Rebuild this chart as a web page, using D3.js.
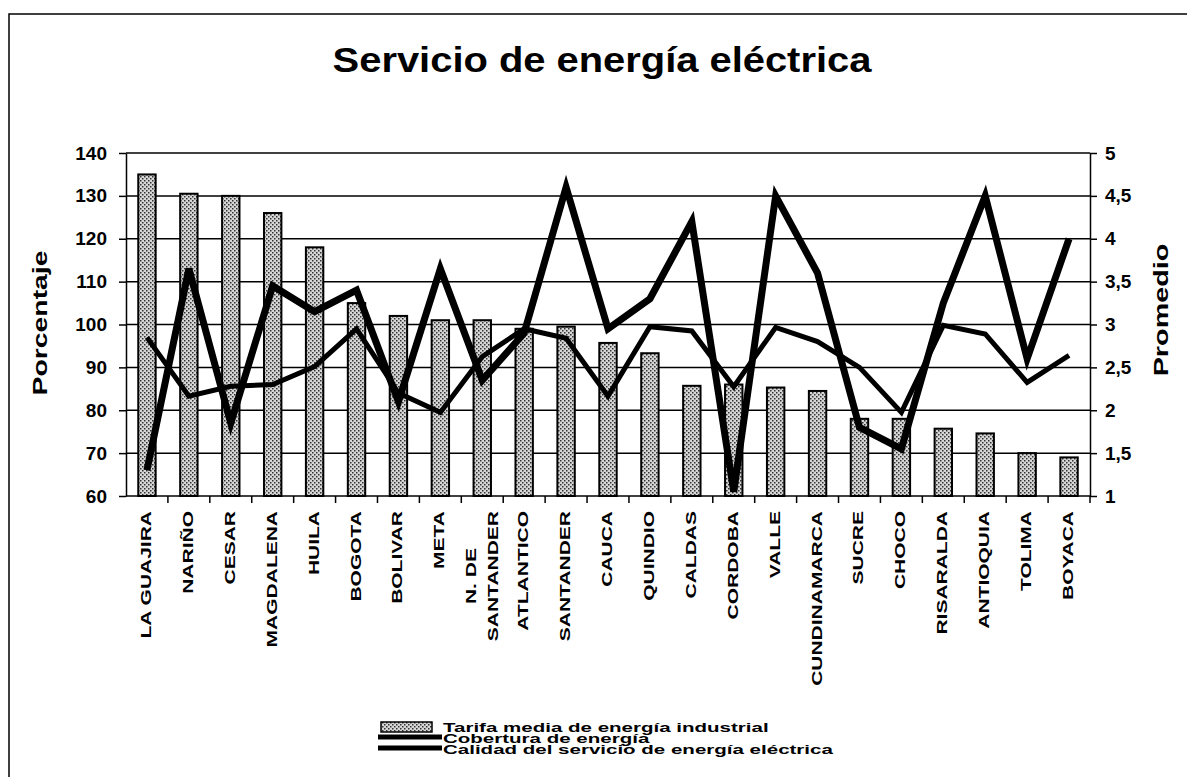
<!DOCTYPE html>
<html>
<head>
<meta charset="utf-8">
<script src="https://cdn.jsdelivr.net/npm/d3@7"></script>
<style>
  body { margin: 0; background: #fff; }
  text { font-family: "Liberation Sans", Arial, sans-serif; font-weight: bold; fill: #000; }
</style>
</head>
<body>
<svg width="1187" height="777"></svg>
<script>
// datos
var regiones = ["LA GUAJIRA", "NARIÑO", "CESAR", "MAGDALENA", "HUILA", "BOGOTA", "BOLIVAR", "META",
  "N. DE\nSANTANDER", "ATLANTICO", "SANTANDER", "CAUCA", "QUINDIO", "CALDAS", "CORDOBA", "VALLE",
  "CUNDINAMARCA", "SUCRE", "CHOCO", "RISARALDA", "ANTIOQUIA", "TOLIMA", "BOYACA"];
var tarifa = [135, 130.5, 130, 126, 118, 105, 102, 101, 101, 99, 99.5, 95.7, 93.3, 85.7, 86, 85.3, 84.5, 78, 78, 75.7, 74.6, 70, 69];
var cobertura = [97, 83.3, 85.6, 86, 90.2, 99, 84, 79.5, 92.5, 99, 96.8, 83.3, 99.5, 98.5, 85.5, 99.3, 96, 90, 79.5, 99.8, 97.8, 86.5, 92.8];
var calidad = [1.3, 3.65, 1.85, 3.45, 3.15, 3.4, 2.1, 3.65, 2.35, 2.9, 4.6, 2.95, 3.3, 4.2, 1.05, 4.5, 3.6, 1.8, 1.55, 3.25, 4.5, 2.6, 4.0];
var ticksIzq = [60, 70, 80, 90, 100, 110, 120, 130, 140];
var ticksDer = [1, 1.5, 2, 2.5, 3, 3.5, 4, 4.5, 5];
var series = ["Tarifa media de energía industrial", "Cobertura de energía", "Calidad del servicio de energía eléctrica"];

var svg = d3.select("svg");
var xIni = 126, xFin = 1090, yArr = 153, yAba = 496;

var x = d3.scaleBand().domain(regiones).range([xIni, xFin]).padding(0);
var bw = x.bandwidth();
var yL = d3.scaleLinear().domain([60, 140]).range([yAba, yArr]);
var yR = d3.scaleLinear().domain([1, 5]).range([yAba, yArr]);

// texto estirado a lo ancho, como en el original
function stext(g, str, px, py, size, sx, anchor, rot) {
  return g.append("text")
    .attr("transform", "translate(" + px + "," + py + ")" + (rot ? " rotate(" + rot + ")" : "") + " scale(" + sx + ",1)")
    .attr("text-anchor", anchor)
    .style("font-size", size + "px")
    .text(str);
}

var defs = svg.append("defs");
var pat = defs.append("pattern").attr("id", "puntos")
  .attr("patternUnits", "userSpaceOnUse").attr("width", 4).attr("height", 4);
pat.append("rect").attr("width", 4).attr("height", 4).attr("fill", "#d6d6d6");
pat.append("rect").attr("x", 0).attr("y", 0).attr("width", 1.5).attr("height", 1.5).attr("fill", "#333");
pat.append("rect").attr("x", 2).attr("y", 2).attr("width", 1.5).attr("height", 1.5).attr("fill", "#333");

// marco
svg.append("path").attr("d", "M9,777V14H1187").attr("fill", "none").attr("stroke", "#000").attr("stroke-width", 1.5);

// titulo
stext(svg, "Servicio de energía eléctrica", 602, 72, 35, 1.14, "middle");

// rejilla
svg.append("g").selectAll("line").data(ticksIzq.slice(1)).join("line")
  .attr("x1", xIni).attr("x2", xFin)
  .attr("y1", d => yL(d)).attr("y2", d => yL(d))
  .attr("stroke", "#000").attr("stroke-width", 1.5);

// barras
svg.append("g").selectAll("rect").data(tarifa).join("rect")
  .attr("x", (d, i) => x(regiones[i]) + bw / 2 - 8.7)
  .attr("width", 17.4)
  .attr("y", d => yL(d))
  .attr("height", d => yAba - yL(d))
  .attr("fill", "url(#puntos)")
  .attr("stroke", "#000").attr("stroke-width", 2);

// lineas
var lineaCob = d3.line().x((d, i) => x(regiones[i]) + bw / 2).y(d => yL(d));
var lineaCal = d3.line().x((d, i) => x(regiones[i]) + bw / 2).y(d => yR(d));
svg.append("path").attr("d", lineaCob(cobertura)).attr("fill", "none")
  .attr("stroke", "#000").attr("stroke-width", 5);
svg.append("path").attr("d", lineaCal(calidad)).attr("fill", "none")
  .attr("stroke", "#000").attr("stroke-width", 7);

// ejes
var ejeIzq = svg.append("g").attr("transform", "translate(" + xIni + ",0)")
  .call(d3.axisLeft(yL).tickValues(ticksIzq).tickSize(7).tickSizeOuter(0).tickPadding(12));
var ejeDer = svg.append("g").attr("transform", "translate(" + xFin + ",0)")
  .call(d3.axisRight(yR).tickValues(ticksDer).tickSize(7).tickSizeOuter(0).tickPadding(8)
    .tickFormat(d => String(d).replace(".", ",")));
[ejeIzq, ejeDer].forEach(function(g) {
  g.select(".domain").attr("stroke-width", 1.5);
  g.selectAll(".tick line").attr("stroke-width", 1.5);
  g.selectAll("text").style("font-size", "19px").style("font-family", "Liberation Sans, Arial, sans-serif").style("font-weight", "bold");
});

// eje inferior
svg.append("line").attr("x1", xIni).attr("x2", xFin).attr("y1", yAba).attr("y2", yAba)
  .attr("stroke", "#000").attr("stroke-width", 1.5);
svg.append("g").selectAll("line").data(regiones.slice(1).concat([null])).join("line")
  .attr("x1", d => d ? x(d) : xFin).attr("x2", d => d ? x(d) : xFin)
  .attr("y1", yAba).attr("y2", yAba + 7)
  .attr("stroke", "#000").attr("stroke-width", 1.5);

var etiq = svg.append("g");
regiones.forEach(function(r) {
  var cx = x(r) + bw / 2;
  var partes = r.split("\n");
  if (partes.length == 1) {
    stext(etiq, r, cx + 4, 511, 15, 1.4, "end", -90);
  } else {
    var t2 = stext(etiq, partes[1], cx + 16, 511, 15, 1.4, "end", -90);
    var largo = t2.node().getComputedTextLength() * 1.4;
    stext(etiq, partes[0], cx - 6, 511 + largo / 2, 15, 1.4, "middle", -90);
  }
});

// titulos de ejes
stext(svg, "Porcentaje", 47, 323, 21, 1.35, "middle", -90);
stext(svg, "Promedio", 1168, 310, 21, 1.37, "middle", -90);

// leyenda
var ley = svg.append("g");
ley.append("rect").attr("x", 381).attr("y", 722).attr("width", 51).attr("height", 10)
  .attr("fill", "url(#puntos)").attr("stroke", "#000").attr("stroke-width", 1.5);
[737, 748].forEach(function(yy) {
  ley.append("line").attr("x1", 378).attr("x2", 442).attr("y1", yy).attr("y2", yy)
    .attr("stroke", "#000").attr("stroke-width", 5);
});
series.forEach(function(s, i) {
  stext(ley, s, 443, 732 + i * 11, 13.5, 1.52, "start");
});
</script>
</body>
</html>
